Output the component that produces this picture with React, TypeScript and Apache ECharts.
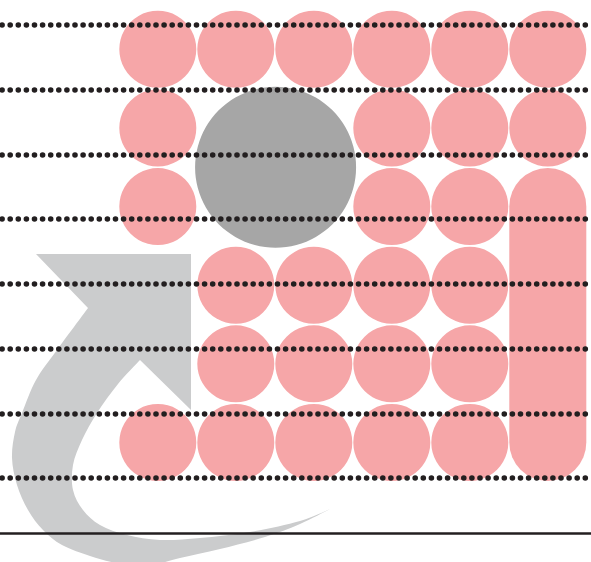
import React, { useEffect, useRef } from "react";
import * as echarts from "echarts";

// Grid cells (column, row from top) holding a pink circle
const pinkCircles: [number, number][] = [
  [0, 0], [1, 0], [2, 0], [3, 0], [4, 0], [5, 0],
  [0, 1], [3, 1], [4, 1], [5, 1],
  [0, 2], [3, 2], [4, 2],
  [1, 3], [2, 3], [3, 3], [4, 3],
  [1, 4], [2, 4], [3, 4], [4, 4],
  [0, 5], [1, 5], [2, 5], [3, 5], [4, 5],
];
// Large grey circle spanning cells (1..2, 1..2)
const greyCircle: [number, number][] = [[1.51, 1.5]];
// Pill: column, first row, last row
const pills: [number, number, number][] = [[5, 2, 5]];
// Dotted guide levels
const dottedLevels = [1, 2, 3, 4, 5, 6, 7, 8];

// Arrow outline (pixel coords)
const arrowHead: [number, number][] = [[36, 254], [191, 254], [191, 410], [140, 360]];
const arrowInner: [number, number][] = [
  [140, 360], [118, 384], [97, 413], [82, 440], [73, 465], [73, 490], [83, 510],
  [100, 525], [127, 535], [160, 540], [200, 538], [250, 532], [300, 521], [330, 509],
];
const arrowOuter: [number, number][] = [
  [330, 509], [300, 524], [265, 537], [220, 549], [180, 558], [150, 565], [117, 563],
  [90, 556], [62, 545], [43, 530], [28, 510], [17, 485], [12, 458], [15, 432],
  [22, 413], [36, 380], [57, 350], [88, 308],
];

function crSegments(p: [number, number][]): string {
  let d = "";
  for (let i = 0; i < p.length - 1; i++) {
    const p0 = p[i - 1] || p[i];
    const p1 = p[i];
    const p2 = p[i + 1];
    const p3 = p[i + 2] || p[i + 1];
    const c1x = p1[0] + (p2[0] - p0[0]) / 6;
    const c1y = p1[1] + (p2[1] - p0[1]) / 6;
    const c2x = p2[0] - (p3[0] - p1[0]) / 6;
    const c2y = p2[1] - (p3[1] - p1[1]) / 6;
    d += ` C${c1x.toFixed(2)},${c1y.toFixed(2)} ${c2x.toFixed(2)},${c2y.toFixed(2)} ${p2[0]},${p2[1]}`;
  }
  return d;
}

let registered = false;
function registerArrow() {
  if (registered) return;
  let d = `M${arrowHead[0][0]},${arrowHead[0][1]}`;
  for (let i = 1; i < arrowHead.length; i++) d += ` L${arrowHead[i][0]},${arrowHead[i][1]}`;
  d += crSegments(arrowInner);
  d += crSegments(arrowOuter);
  d += " Z";
  echarts.graphic.registerShape("curvedArrow", echarts.graphic.extendPath(d, {}) as any);
  registered = true;
}

const W = 591;
const H = 562;
const colStart = 157.8;
const colStep = 78;
const rowStart = 49.3;
const rowStep = 78.64;
const axisY = 533.5;

export default function App() {
  const ref = useRef<HTMLDivElement>(null);
  useEffect(() => {
    if (!ref.current) return;
    registerArrow();
    const chart = echarts.init(ref.current, null, { renderer: "svg", width: W, height: H });
    const option: any = {
      animation: false,
      backgroundColor: "#ffffff",
      grid: [
        { left: 0, right: 0, top: 0, bottom: H - axisY, containLabel: false },
        { left: 0, right: 0, top: 25, bottom: H - 478, containLabel: false },
      ],
      xAxis: [
        {
          type: "value",
          gridIndex: 0,
          min: -colStart / colStep,
          max: (W - colStart) / colStep,
          z: 12,
          axisLine: { show: true, onZero: false, lineStyle: { color: "#231f20", width: 2.5 } },
          axisTick: { show: false },
          axisLabel: { show: false },
          splitLine: { show: false },
        },
        { type: "value", gridIndex: 1, min: 0, max: 1, show: false },
      ],
      yAxis: [
        {
          type: "value",
          gridIndex: 0,
          inverse: true,
          min: -rowStart / rowStep,
          max: (axisY - rowStart) / rowStep,
          show: false,
        },
        {
          type: "value",
          gridIndex: 1,
          min: dottedLevels[0],
          max: dottedLevels[dottedLevels.length - 1],
          interval: 1,
          z: 10,
          axisLine: { show: false },
          axisTick: { show: false },
          axisLabel: { show: false },
          splitLine: {
            show: true,
            lineStyle: { color: "#231f20", width: 5.6, type: [0, 8.1], cap: "round", dashOffset: 5.6 },
          },
        },
      ],
      graphic: [
        {
          type: "curvedArrow",
          x: 0,
          y: 0,
          z: 0,
          silent: true,
          style: { fill: "#cbcccd", stroke: "none" },
        },
      ],
      series: [
        {
          type: "scatter",
          xAxisIndex: 0,
          yAxisIndex: 0,
          data: pinkCircles,
          symbol: "circle",
          symbolSize: 77,
          itemStyle: { color: "#f6a6a8", opacity: 1 },
          z: 3,
        },
        {
          type: "scatter",
          xAxisIndex: 0,
          yAxisIndex: 0,
          data: greyCircle,
          symbol: "circle",
          symbolSize: 161,
          itemStyle: { color: "#a6a6a6", opacity: 1 },
          z: 3,
        },
        {
          type: "custom",
          xAxisIndex: 0,
          yAxisIndex: 0,
          data: pills,
          encode: { x: 0, y: [1, 2] },
          z: 3,
          renderItem: (params: any, api: any) => {
            const c = api.value(0);
            const a = api.coord([c, api.value(1)]);
            const b = api.coord([c, api.value(2)]);
            const w = 77;
            return {
              type: "rect",
              shape: { x: a[0] - w / 2, y: a[1] - w / 2, width: w, height: b[1] - a[1] + w, r: w / 2 },
              style: { fill: "#f6a6a8" },
            };
          },
        },
      ],
    };
    chart.setOption(option);
    return () => chart.dispose();
  }, []);
  return (
    <div
      ref={ref}
      style={{ position: "fixed", left: 0, top: 0, width: W, height: H, background: "#fff" }}
    />
  );
}
